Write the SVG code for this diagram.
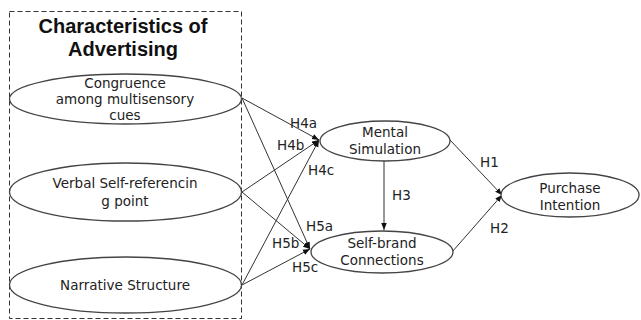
<svg xmlns="http://www.w3.org/2000/svg" width="641" height="320" viewBox="0 0 641 320">
<defs>
<style>
.t{font-family:"DejaVu Sans","Liberation Sans",sans-serif;font-size:13.5px;fill:#222;text-anchor:middle}
.title{font-family:"Liberation Sans",Arial,sans-serif;font-size:20px;font-weight:bold;fill:#111;text-anchor:middle}
.n{fill:#fff;stroke:#444;stroke-width:1.3}
.e{stroke:#333;stroke-width:1;fill:none}
.lbl{font-family:"DejaVu Sans","Liberation Sans",sans-serif;font-size:13.5px;fill:#222}
</style>
<marker id="ah" viewBox="0 0 10 10" refX="10" refY="5" markerWidth="7" markerHeight="7" orient="auto" markerUnits="userSpaceOnUse">
<path d="M0,1 L10,5 L0,9 z" fill="#111"/>
</marker>
</defs>
<rect width="641" height="320" fill="#fff"/>
<g id="group-box">
<rect x="9.5" y="11.5" width="232" height="307" fill="none" stroke="#333" stroke-width="1" stroke-dasharray="5,3"/>
<text class="title" x="123" y="33">Characteristics of</text>
<text class="title" x="123" y="56">Advertising</text>
</g>
<g id="connectors">
<line class="e" x1="242" y1="98" x2="319" y2="140" marker-end="url(#ah)"/>
<line class="e" x1="242" y1="98" x2="310" y2="249" marker-end="url(#ah)"/>
<line class="e" x1="242" y1="192" x2="319" y2="140" marker-end="url(#ah)"/>
<line class="e" x1="242" y1="192" x2="310" y2="249" marker-end="url(#ah)"/>
<line class="e" x1="242" y1="285" x2="319" y2="140" marker-end="url(#ah)"/>
<line class="e" x1="242" y1="285" x2="310" y2="249" marker-end="url(#ah)"/>
<line class="e" x1="384" y1="161" x2="384" y2="230" marker-end="url(#ah)"/>
<line class="e" x1="450" y1="140" x2="502" y2="195" marker-end="url(#ah)"/>
<line class="e" x1="452" y1="252" x2="502" y2="195" marker-end="url(#ah)"/>
<text class="lbl" x="290" y="128">H4a</text>
<text class="lbl" x="277" y="150">H4b</text>
<text class="lbl" x="308" y="175">H4c</text>
<text class="lbl" x="392" y="200">H3</text>
<text class="lbl" x="306" y="231">H5a</text>
<text class="lbl" x="272" y="248">H5b</text>
<text class="lbl" x="292" y="272">H5c</text>
<text class="lbl" x="480" y="167">H1</text>
<text class="lbl" x="490" y="233">H2</text>
</g>
<g id="congruence">
<ellipse class="n" cx="125.5" cy="99" rx="116" ry="25"/>
<text class="t" x="125" y="88">Congruence</text>
<text class="t" x="125" y="104">among multisensory</text>
<text class="t" x="125" y="120">cues</text>
</g>
<g id="verbal">
<ellipse class="n" cx="125.5" cy="192" rx="116" ry="29"/>
<text class="t" x="125" y="188">Verbal Self-referencin</text>
<text class="t" x="125" y="206">g point</text>
</g>
<g id="narrative">
<ellipse class="n" cx="125.5" cy="285" rx="116" ry="28"/>
<text class="t" x="125" y="290">Narrative Structure</text>
</g>
<g id="mental">
<ellipse class="n" cx="385" cy="141" rx="65" ry="20"/>
<text class="t" x="385" y="137">Mental</text>
<text class="t" x="385" y="154">Simulation</text>
</g>
<g id="selfbrand">
<ellipse class="n" cx="382" cy="252" rx="71" ry="21"/>
<text class="t" x="382" y="248">Self-brand</text>
<text class="t" x="382" y="265">Connections</text>
</g>
<g id="purchase">
<ellipse class="n" cx="570" cy="195" rx="69" ry="22"/>
<text class="t" x="570" y="193">Purchase</text>
<text class="t" x="570" y="210">Intention</text>
</g>
</svg>
